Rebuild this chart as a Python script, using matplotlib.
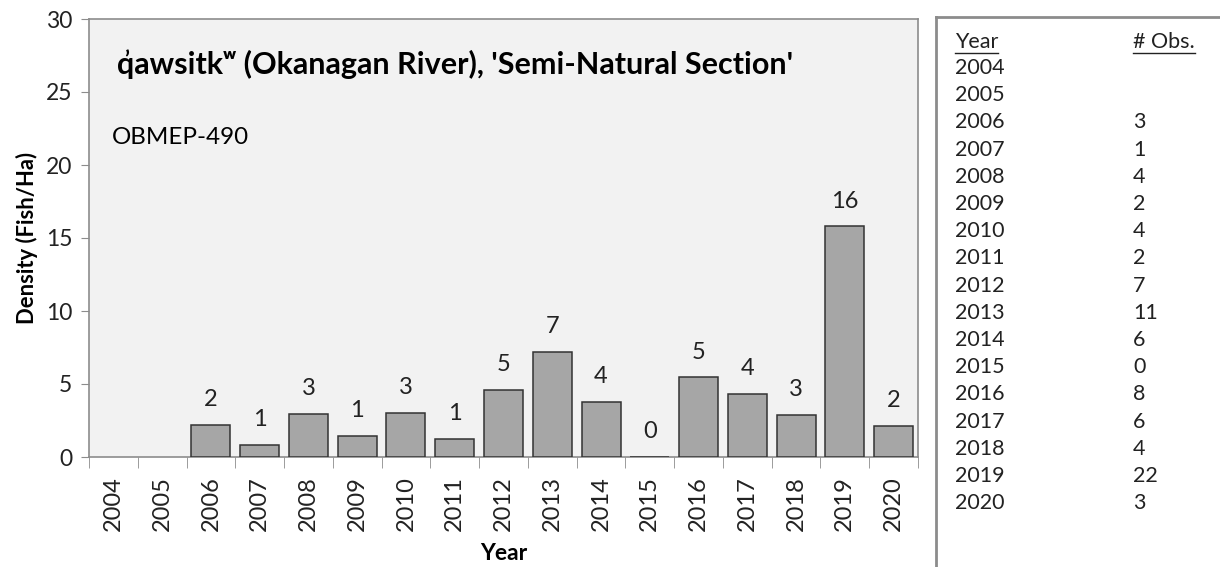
import matplotlib.pyplot as plt
from matplotlib.lines import Line2D

# Density per year and observation counts
years = ["2004", "2005", "2006", "2007", "2008", "2009", "2010", "2011", "2012",
         "2013", "2014", "2015", "2016", "2017", "2018", "2019", "2020"]
density = [None, None, 2.2, 0.85, 2.95, 1.45, 3.03, 1.25, 4.6,
           7.2, 3.8, 0.0, 5.45, 4.34, 2.88, 15.8, 2.14]
n_obs = ["", "", "3", "1", "4", "2", "4", "2", "7",
         "11", "6", "0", "8", "6", "4", "22", "3"]

# the comma above the first q is drawn separately (no mark shaping in matplotlib)
title = "qawsitk\u02b7 (Okanagan River), 'Semi-Natural Section'"
site = "OBMEP-490"

plt.rcParams['font.family'] = ['Lato', 'DejaVu Sans']

W, H = 1220, 567
fig = plt.figure(figsize=(W / 100, H / 100), dpi=100)
ax = fig.add_axes([89 / W, 1 - 457 / H, (918 - 89) / W, (457 - 19) / H])
ax.set_facecolor("#f2f2f2")
for sp in ax.spines.values():
    sp.set_color("#8c8c8c")
    sp.set_linewidth(1.2)

xs = list(range(len(years)))
for x, v in zip(xs, density):
    if v is None:
        continue
    ax.bar(x, v, width=0.8, color="#a6a6a6", edgecolor="#333333", linewidth=1.1, zorder=3)
    ax.text(x, v + 1.0, f"{v:.0f}", ha="center", va="bottom", fontsize=17, color="#222222")

ax.set_xlim(-0.5, len(years) - 0.5)
ax.set_ylim(0, 30)
ax.set_yticks(range(0, 31, 5))
ax.tick_params(axis="y", labelsize=16.5, length=6, color="#8c8c8c", pad=6, labelcolor="#222222")

# category labels centred, tick marks on category boundaries
ax.set_xticks(xs)
ax.set_xticklabels(years, rotation=90, fontsize=17, color="#222222")
ax.tick_params(axis="x", which="major", length=0, pad=14)
ax.set_xticks([x - 0.5 for x in xs] + [len(years) - 0.5], minor=True)
ax.tick_params(axis="x", which="minor", length=8, color="#8c8c8c")

ax.set_ylabel("Density (Fish/Ha)", fontsize=15.8, fontweight="bold", labelpad=6)
ax.set_xlabel("Year", fontsize=16.5, fontweight="bold", labelpad=8)

ttl = ax.text(117 / W, 1 - 64 / H, title, transform=fig.transFigure, fontsize=22,
              fontweight="bold", ha="left", va="center")
ax.text(112 / W, 1 - 138 / H, site, transform=fig.transFigure, fontsize=17.4,
        ha="left", va="center")

renderer = fig.canvas.get_renderer()
q = fig.text(117 / W, 1 - 64 / H, "q", fontsize=22, fontweight="bold", ha="left", va="center")
qb = q.get_window_extent(renderer)
q.remove()
tb = ttl.get_window_extent(renderer)
fig.text((qb.x0 + qb.x1) / 2 / W + 0.001, (tb.y1 - 1) / H, "\u2019", fontsize=16,
         fontweight="bold", ha="center", va="top")

# observation table box on the right
fig.add_artist(Line2D([936 / W, 936 / W], [0, 1 - 17 / H], transform=fig.transFigure,
                      color="#8c8c8c", linewidth=2))
fig.add_artist(Line2D([936 / W, 1], [1 - 17 / H, 1 - 17 / H], transform=fig.transFigure,
                      color="#8c8c8c", linewidth=2))

col1, col2 = 955 / W, 1133 / W
hdr_y = 1 - 42 / H
h1 = fig.text(col1, hdr_y, "Year", fontsize=15.5, ha="left", va="center", color="#222222")
h2 = fig.text(col2, hdr_y, "# Obs.", fontsize=15.5, ha="left", va="center", color="#222222")
for i, (yr, n) in enumerate(zip(years, n_obs)):
    yy = 1 - (68 + i * 27.2) / H
    fig.text(col1, yy, yr, fontsize=15.5, ha="left", va="center", color="#222222")
    fig.text(col2, yy, n, fontsize=15.5, ha="left", va="center", color="#222222")

# underline the table headers
for h in (h1, h2):
    bb = h.get_window_extent(renderer)
    yl = (bb.y0 - 1) / H
    fig.add_artist(Line2D([bb.x0 / W, bb.x1 / W], [yl, yl], transform=fig.transFigure,
                          color="#222222", linewidth=1))

fig.savefig("out.png", dpi=100)
